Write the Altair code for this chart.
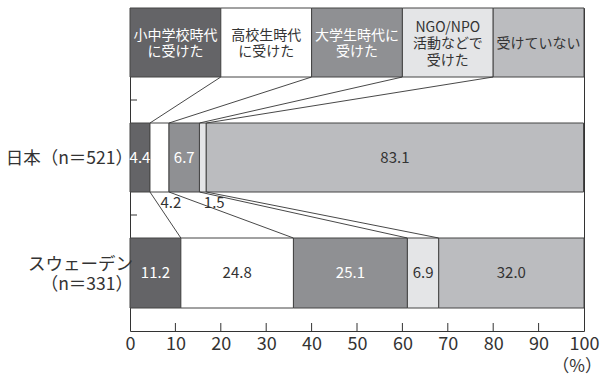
import altair as alt
import pandas as pd

# Categories of when the respondents received the education
categories = ["小中学校時代に受けた", "高校生時代に受けた", "大学生時代に受けた",
              "NGO/NPO活動などで受けた", "受けていない"]
category_lines = [["小中学校時代", "に受けた"], ["高校生時代", "に受けた"],
                  ["大学生時代に", "受けた"], ["NGO/NPO", "活動などで", "受けた"],
                  ["受けていない"]]
japan = [4.4, 4.2, 6.7, 1.5, 83.1]
sweden = [11.2, 24.8, 25.1, 6.9, 32.0]
countries = [["日本（n＝521）"], ["スウェーデン", "（n＝331）"]]
fills = ["#646467", "#ffffff", "#8f9093", "#e4e5e7", "#bbbcbf"]
text_fills = ["#ffffff", "#333333", "#ffffff", "#333333", "#333333"]
x_ticks = [0, 10, 20, 30, 40, 50, 60, 70, 80, 90, 100]

FONT = "Noto Sans CJK JP"
INK = "#333333"

# Vertical layout of the rows inside the plot area (pixels from the top)
KEY_TOP, KEY_BOTTOM = 0, 69
JP_TOP, JP_BOTTOM = 115, 184
SW_TOP, SW_BOTTOM = 230, 300
KEY_LINE = 16.5
COUNTRY_LINE = 20

color_scale = alt.Scale(domain=categories, range=fills)
x_scale = alt.Scale(domain=[0, 100], nice=False)
y_scale = alt.Scale(domain=[323, 0], nice=False, zero=False)
x_axis = alt.Axis(values=x_ticks, ticks=False, domain=False, grid=False,
                  labelFontSize=18, labelFont=FONT, labelColor=INK,
                  labelPadding=4, title=None, labelFlush=False)


def X(field):
    return alt.X(field, type="quantitative", scale=x_scale, axis=x_axis)


def line_rows(lines, center, line_height):
    # one row per text line, stacked around a vertical centre
    top = center - (len(lines) - 1) * line_height / 2
    return [(text, top + i * line_height) for i, text in enumerate(lines)]


def stacked(values):
    rows, start = [], 0.0
    for cat, v, tc in zip(categories, values, text_fills):
        rows.append({"category": cat, "value": v, "start": start,
                     "end": start + v, "mid": start + v / 2,
                     "label": f"{v:.1f}", "ink": tc})
        start += v
    return pd.DataFrame(rows)


jp_df = stacked(japan)
sw_df = stacked(sweden)

# Header key: one box per category, each a fifth of the width
key_df = pd.DataFrame({
    "category": categories,
    "start": [20 * i for i in range(5)],
    "end": [20 * (i + 1) for i in range(5)],
})
key_text_df = pd.DataFrame([
    {"text": t, "ty": y, "mid": 20 * i + 10, "ink": text_fills[i]}
    for i, lines in enumerate(category_lines)
    for t, y in line_rows(lines, 36, KEY_LINE)
])

# Connectors between the key and the bars
top_links = pd.DataFrame({"a": key_df["end"][:4].tolist(),
                          "b": jp_df["end"][:4].tolist()})
mid_links = pd.DataFrame({"a": jp_df["end"][:4].tolist(),
                          "b": sw_df["end"][:4].tolist()})


def bar_layer(df, top, bottom):
    return alt.Chart(df).mark_rect(stroke="#444444", strokeWidth=1).encode(
        x=X("start"), x2="end",
        y=alt.value(top), y2=alt.value(bottom),
        color=alt.Color("category:N", scale=color_scale, legend=None),
    )


key_boxes = bar_layer(key_df, KEY_TOP, KEY_BOTTOM)
key_text = alt.Chart(key_text_df).mark_text(
    font=FONT, fontSize=14, baseline="middle", align="center"
).encode(
    x=X("mid"),
    y=alt.Y("ty:Q", scale=y_scale, axis=None),
    text="text:N",
    color=alt.Color("ink:N", scale=None),
)

jp_bars = bar_layer(jp_df, JP_TOP, JP_BOTTOM)
sw_bars = bar_layer(sw_df, SW_TOP, SW_BOTTOM)

jp_inside = jp_df[jp_df["value"] > 4.3]
jp_below = jp_df[jp_df["value"] <= 4.3]


def value_text(df, y):
    return alt.Chart(df).mark_text(
        font=FONT, fontSize=15, baseline="middle", align="center"
    ).encode(
        x=X("mid"),
        y=alt.value(y),
        text="label:N",
        color=alt.Color("ink:N", scale=None),
    )


jp_text = value_text(jp_inside, (JP_TOP + JP_BOTTOM) / 2)
sw_text = value_text(sw_df, (SW_TOP + SW_BOTTOM) / 2)
jp_small = alt.Chart(jp_below).mark_text(
    font=FONT, fontSize=15, baseline="middle", align="left", dx=1, color=INK
).encode(
    x=X("mid"),
    y=alt.value(195),
    text="label:N",
)


def links(df, y1, y2):
    return alt.Chart(df).mark_rule(color=INK, strokeWidth=0.9).encode(
        x=X("a"), x2="b",
        y=alt.value(y1), y2=alt.value(y2),
    )


link_top = links(top_links, KEY_BOTTOM, JP_TOP)
link_mid = links(mid_links, JP_BOTTOM, SW_TOP)

# Inward tick marks on both axes
tick_df = pd.DataFrame({"t": x_ticks[1:-1]})
x_tick_marks = alt.Chart(tick_df).mark_rule(color=INK, strokeWidth=1).encode(
    x=X("t"),
    y=alt.value(315), y2=alt.value(323),
)
y_tick_df = pd.DataFrame({"yy": [92, 207]})
y_tick_marks = alt.Chart(y_tick_df).mark_rule(color=INK, strokeWidth=1).encode(
    x=alt.value(0), x2=alt.value(7),
    y=alt.Y("yy:Q", scale=y_scale, axis=None),
)

# Country labels left of the bars
country_centres = [(JP_TOP + JP_BOTTOM) / 2 + 1, (SW_TOP + SW_BOTTOM) / 2 + 2]
country_df = pd.DataFrame([
    {"text": t, "yc": y}
    for lines, c in zip(countries, country_centres)
    for t, y in line_rows(lines, c, COUNTRY_LINE)
])
country_text = alt.Chart(country_df).mark_text(
    font=FONT, fontSize=17.5, align="right", baseline="middle", color=INK
).encode(
    x=alt.value(3),
    y=alt.Y("yc:Q", scale=y_scale, axis=None),
    text="text:N",
)

unit_text = alt.Chart(pd.DataFrame({"u": ["（%）"]})).mark_text(
    font=FONT, fontSize=17, align="right", baseline="middle", color=INK
).encode(x=alt.value(472), y=alt.value(359), text="u:N")

chart = alt.layer(
    key_boxes, jp_bars, sw_bars, link_top, link_mid,
    key_text, jp_text, sw_text, jp_small,
    x_tick_marks, y_tick_marks, country_text, unit_text,
).properties(
    width=454, height=323,
    padding={"left": 130, "top": 8, "right": 19, "bottom": 45},
    autosize=alt.AutoSizeParams(type="none"),
    background="#ffffff",
).configure_view(stroke=INK, strokeWidth=1)

chart.save("out.html", embed_options={"renderer": "svg", "actions": False})
